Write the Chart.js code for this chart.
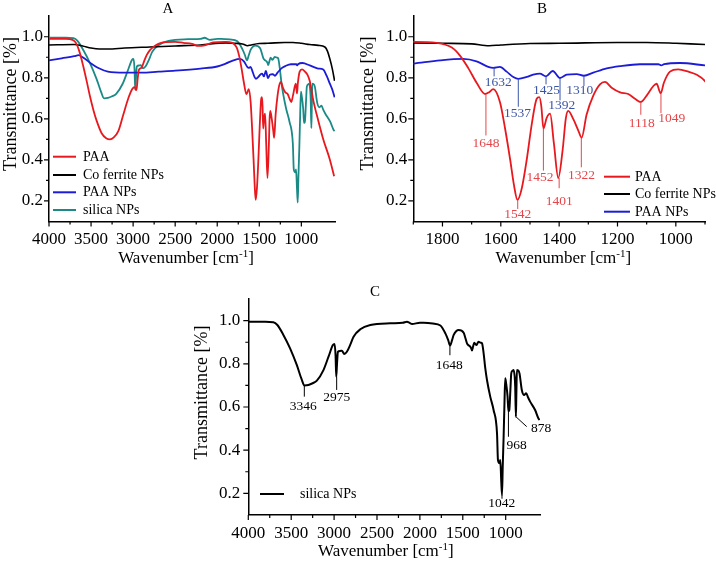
<!DOCTYPE html>
<html><head><meta charset="utf-8">
<script src="https://cdn.jsdelivr.net/npm/chart.js@4/dist/chart.umd.min.js"></script>
<style>
html,body{margin:0;padding:0;background:#fff;}
#wrap{position:relative;width:716px;height:563px;overflow:hidden;background:#fff;}
canvas{position:absolute;}
</style></head><body>
<div id="wrap">
<canvas id="cA" width="358" height="270" style="left:0;top:0;width:358px;height:270px"></canvas>
<canvas id="cB" width="358" height="270" style="left:358px;top:0;width:358px;height:270px"></canvas>
<canvas id="cC" width="380" height="283" style="left:190px;top:280px;width:380px;height:283px"></canvas>
</div>
<script>
// ---------- data (wavenumber cm-1, transmittance) ----------
const paaWn = [4000,3800,3720,3680,3640,3592,3550,3513,3470,3433,3374,3320,3275,3230,3176,3117,3057,3010,2985,2960,2945,2930,2898,2870,2839,2800,2760,2700,2640,2500,2400,2300,2225,2150,2047,1900,1820,1768,1740,1711,1683,1654,1640,1626,1603,1586,1568,1555,1543,1528,1511,1494,1477,1468,1461,1454,1443,1431,1418,1403,1388,1377,1369,1351,1334,1323,1306,1283,1260,1243,1220,1191,1163,1140,1120,1100,1077,1066,1052,1041,1020,992,957,928,900,858,798,739,660,610];
const paaT = [0.99,0.99,0.985,0.97,0.93,0.855,0.78,0.71,0.64,0.59,0.53,0.505,0.50,0.51,0.54,0.62,0.70,0.745,0.755,0.74,0.80,0.84,0.85,0.88,0.91,0.935,0.95,0.965,0.973,0.975,0.97,0.965,0.955,0.958,0.972,0.975,0.97,0.947,0.908,0.846,0.776,0.721,0.73,0.745,0.682,0.558,0.402,0.278,0.205,0.262,0.402,0.573,0.698,0.706,0.66,0.553,0.604,0.625,0.48,0.312,0.449,0.604,0.639,0.597,0.542,0.508,0.62,0.713,0.768,0.78,0.752,0.729,0.721,0.698,0.682,0.713,0.76,0.771,0.724,0.776,0.83,0.841,0.83,0.815,0.784,0.69,0.59,0.50,0.40,0.32];

const coWn = [4000,3700,3600,3500,3400,3300,3100,2800,2500,2200,1900,1800,1700,1640,1600,1500,1400,1200,1100,1000,900,800,720,690,660,630,605];
const coT = [0.96,0.962,0.955,0.945,0.94,0.94,0.945,0.95,0.955,0.96,0.97,0.968,0.965,0.956,0.96,0.967,0.968,0.972,0.972,0.968,0.962,0.958,0.95,0.93,0.89,0.84,0.785];

const npWn = [4000,3850,3700,3650,3600,3500,3400,3300,3100,2900,2700,2500,2200,2000,1900,1808,1729,1683,1643,1626,1603,1580,1557,1540,1511,1489,1466,1445,1422,1397,1374,1340,1315,1283,1237,1191,1123,1060,1050,1040,986,900,800,740,700,660,630,605];
const npT = [0.885,0.895,0.905,0.91,0.90,0.87,0.845,0.83,0.825,0.825,0.83,0.835,0.845,0.855,0.869,0.885,0.892,0.88,0.853,0.848,0.853,0.83,0.804,0.795,0.804,0.815,0.82,0.807,0.833,0.799,0.815,0.818,0.81,0.825,0.846,0.857,0.866,0.866,0.86,0.866,0.872,0.86,0.845,0.84,0.81,0.77,0.74,0.705];

const siWn = [4000,3800,3708,3661,3591,3513,3435,3380,3346,3299,3250,3201,3124,3065,3014,2995,2983,2975,2966,2955,2930,2909,2882,2851,2810,2773,2695,2578,2345,2200,2150,2120,2091,2000,1956,1850,1761,1703,1670,1648,1625,1606,1575,1548,1490,1470,1451,1430,1413,1400,1393,1380,1366,1343,1316,1290,1276,1257,1238,1218,1180,1141,1101,1090,1071,1063,1052,1043,1034,1024,1014,1005,995,978,968,958,945,935,920,908,895,889,881,876,869,855,839,812,785,761,740,715,657,618,605];
const siT = [0.995,0.995,0.993,0.98,0.934,0.872,0.795,0.73,0.70,0.702,0.71,0.722,0.771,0.833,0.887,0.892,0.84,0.74,0.80,0.856,0.86,0.861,0.846,0.856,0.89,0.926,0.96,0.98,0.988,0.99,0.995,0.99,0.985,0.99,0.99,0.987,0.978,0.941,0.91,0.885,0.91,0.934,0.952,0.957,0.944,0.92,0.895,0.885,0.88,0.87,0.862,0.88,0.898,0.887,0.902,0.898,0.895,0.849,0.78,0.725,0.648,0.586,0.478,0.354,0.339,0.354,0.26,0.192,0.33,0.462,0.62,0.733,0.71,0.648,0.58,0.586,0.68,0.756,0.768,0.771,0.74,0.694,0.555,0.65,0.771,0.77,0.756,0.679,0.656,0.664,0.645,0.625,0.586,0.547,0.54];

const seriesNames = ['PAA','Co ferrite NPs','PAA NPs','silica NPs'];

// peak labels (panel B, blue = PAA NPs)
const bBlueLabels = ['1632','1537','1425','1392','1310'];
const bBlueLineX  = [1623,1540,1445,1397,1315];
const bBlueLineY1 = [0.85,0.795,0.807,0.799,0.81];
const bBlueLineY2 = [0.807,0.659,0.768,0.69,0.76];
const bBlueTextX  = [1609,1543,1443,1391,1329];
const bBlueTextY  = [0.776,0.625,0.74,0.667,0.74];
// peak labels (panel B, red = PAA)
const bRedLabels = ['1648','1542','1452','1401','1322','1118','1049'];
const bRedLineX  = [1651,1542,1454,1400,1324,1120,1051];
const bRedLineY1 = [0.717,0.205,0.553,0.312,0.508,0.682,0.724];
const bRedLineY2 = [0.519,0.161,0.348,0.262,0.364,0.62,0.628];
const bRedTextX  = [1651,1542,1466,1400,1323,1117,1014];
const bRedTextY  = [0.48,0.135,0.314,0.2,0.325,0.577,0.60];
// peak labels (panel C, silica)
const cLabels  = ['3346','2975','1648','1042','968','878'];
const cLineX1  = [3347,2970,1650,1043,968,881];
const cLineY1  = [0.70,0.74,0.885,0.192,0.58,0.555];
const cLineX2  = [3347,2970,1650,1043,968,755];
const cLineY2  = [0.648,0.679,0.84,0.175,0.462,0.509];
const cTextX   = [3359,2970,1657,1047,872,588];
const cTextY   = [0.601,0.643,0.794,0.153,0.424,0.501];

// ---------- drawing ----------
const SERIF = '"Liberation Serif","Times New Roman",serif';
const RED = '#e8191e', BLACK = '#000000', BLUE = '#1c1cd6', TEAL = '#1b8a86';

function pts(wn, t){ return wn.map((w,i)=>({x:w, y:t[i]})); }
function ds(label, wn, t, color, w){
  return {label, data: pts(wn,t), borderColor: color, backgroundColor: color, borderWidth: w,
          pointRadius: 0, cubicInterpolationMode: 'monotone', fill: false};
}

function makeDeco(c){
  return { id: 'deco', afterDraw(chart){
    const ctx = chart.ctx, X = chart.scales.x, Y = chart.scales.y;
    ctx.save();
    // tick marks (major + minor, outward)
    ctx.strokeStyle = '#000'; ctx.lineWidth = 1.2; ctx.beginPath();
    X.ticks.forEach(t=>{ const v = Math.round(t.value); if (v % c.xMinor !== 0) return;
      const L = v % c.xMajor === 0 ? 5 : 3; const p = X.getPixelForValue(v);
      ctx.moveTo(p, X.top); ctx.lineTo(p, X.top + L); });
    Y.ticks.forEach(t=>{ const k = Math.round(t.value*10); if (k < 2 || k > 10) return;
      const L = k % 2 === 0 ? 5 : 3; const p = Y.getPixelForValue(t.value);
      ctx.moveTo(Y.right, p); ctx.lineTo(Y.right - L, p); });
    ctx.stroke();
    // peak annotations
    ctx.font = c.noteSize + 'px ' + SERIF; ctx.textAlign = 'center'; ctx.textBaseline = 'middle';
    c.notes.forEach(n=>{
      ctx.strokeStyle = n.color; ctx.fillStyle = n.color; ctx.lineWidth = 1;
      n.labels.forEach((lab,i)=>{
        ctx.beginPath();
        ctx.moveTo(X.getPixelForValue(n.x1[i]), Y.getPixelForValue(n.y1[i]));
        ctx.lineTo(X.getPixelForValue(n.x2[i]), Y.getPixelForValue(n.y2[i]));
        ctx.stroke();
        ctx.fillText(lab, X.getPixelForValue(n.tx[i]), Y.getPixelForValue(n.ty[i]));
      });
    });
    // legend
    ctx.font = '14px ' + SERIF; ctx.textAlign = 'left'; ctx.textBaseline = 'middle';
    chart.data.datasets.forEach((d,i)=>{
      const yy = c.leg.ys[i];
      ctx.strokeStyle = d.borderColor; ctx.lineWidth = 2;
      ctx.beginPath(); ctx.moveTo(c.leg.x1, yy); ctx.lineTo(c.leg.x2, yy); ctx.stroke();
      ctx.fillStyle = '#000'; ctx.fillText(d.label, c.leg.tx, yy + 0.5);
    });
    // panel letter
    ctx.fillStyle = '#000'; ctx.font = '15px ' + SERIF; ctx.textAlign = 'center';
    ctx.fillText(c.letter, c.letterPos[0], c.letterPos[1]);
    // x title with superscript
    const f1 = '17px ' + SERIF, f2 = '11px ' + SERIF;
    const a = 'Wavenumber [cm', s = '-1', b = ']';
    ctx.font = f1; const wa = ctx.measureText(a).width, wb = ctx.measureText(b).width;
    ctx.font = f2; const ws = ctx.measureText(s).width;
    let x0 = c.xTitle[0] - (wa + ws + wb)/2, yT = c.xTitle[1];
    ctx.textAlign = 'left'; ctx.textBaseline = 'middle';
    ctx.font = f1; ctx.fillText(a, x0, yT);
    ctx.font = f2; ctx.fillText(s, x0 + wa, yT - 5);
    ctx.font = f1; ctx.fillText(b, x0 + wa + ws, yT);
    // y title
    ctx.save(); ctx.translate(c.yTitle[0], c.yTitle[1]); ctx.rotate(-Math.PI/2);
    ctx.font = '18px ' + SERIF; ctx.textAlign = 'center'; ctx.textBaseline = 'middle';
    ctx.fillText('Transmittance [%]', 0, 0); ctx.restore();
    ctx.restore();
  }};
}

function makeChart(id, datasets, c){
  const tickFont = {family: SERIF, size: 17};
  return new Chart(document.getElementById(id), {
    type: 'line',
    data: { datasets },
    options: {
      responsive: false, animation: false, devicePixelRatio: 1,
      layout: { padding: { left: 0, right: c.padR, top: c.padT, bottom: 0 } },
      plugins: { legend: {display: false}, tooltip: {enabled: false}, title: {display: false} },
      scales: {
        x: { type: 'linear', reverse: true, min: c.xmin, max: c.xmax,
             afterFit: s => { s.height = c.xh; },
             grid: { display: false, drawTicks: false },
             border: { display: true, color: '#000', width: 1.5 },
             ticks: { stepSize: c.xMinor, autoSkip: false, maxRotation: 0, minRotation: 0, padding: 8,
                      color: '#000', font: tickFont,
                      callback: v => (Math.round(v) % c.xMajor === 0 && v >= c.xLabMin && v <= c.xLabMax) ? String(Math.round(v)) : '' },
             title: { display: false } },
        y: { type: 'linear', min: 0.1, max: 1.1,
             afterFit: s => { s.width = c.yw; },
             grid: { display: false, drawTicks: false },
             border: { display: true, color: '#000', width: 1.5 },
             ticks: { stepSize: 0.1, autoSkip: false, padding: c.yPad, color: '#000', font: tickFont,
                      callback: v => { const k = Math.round(v*10); return (k % 2 === 0 && k >= 2 && k <= 10) ? (k/10).toFixed(1) : ''; } },
             title: { display: false } }
      }
    },
    plugins: [makeDeco(c)]
  });
}

makeChart('cA', [
  ds(seriesNames[0], paaWn, paaT, RED, 1.8),
  ds(seriesNames[1], coWn, coT, BLACK, 1.6),
  ds(seriesNames[2], npWn, npT, BLUE, 1.8),
  ds(seriesNames[3], siWn, siT, TEAL, 1.8)
], { xmin: 600, xmax: 4000, xMinor: 250, xMajor: 500, xLabMin: 1000, xLabMax: 4000,
     padR: 23, padT: 7.5, xh: 48.5, yw: 49, yPad: 6, noteSize: 13.5, notes: [],
     leg: { x1: 53, x2: 76, tx: 83, ys: [156.7, 175, 192.3, 210] },
     letter: 'A', letterPos: [168, 9.5], xTitle: [186, 259], yTitle: [11.7, 104] });

makeChart('cB', [
  ds(seriesNames[0], paaWn, paaT, RED, 1.8),
  ds(seriesNames[1], coWn, coT, BLACK, 1.6),
  ds(seriesNames[2], npWn, npT, BLUE, 1.8)
], { xmin: 900, xmax: 1900, xMinor: 100, xMajor: 200, xLabMin: 1000, xLabMax: 1800,
     padR: 11, padT: 7.5, xh: 48.5, yw: 55.3, yPad: 6, noteSize: 13.5,
     notes: [
       { color: '#3b55a6', labels: bBlueLabels, x1: bBlueLineX, y1: bBlueLineY1, x2: bBlueLineX, y2: bBlueLineY2, tx: bBlueTextX, ty: bBlueTextY },
       { color: '#e4474b', labels: bRedLabels, x1: bRedLineX, y1: bRedLineY1, x2: bRedLineX, y2: bRedLineY2, tx: bRedTextX, ty: bRedTextY }
     ],
     leg: { x1: 246, x2: 272, tx: 277, ys: [176.7, 194, 211.7] },
     letter: 'B', letterPos: [184, 9.5], xTitle: [205.3, 259], yTitle: [10.3, 103.5] });

makeChart('cC', [
  ds(seriesNames[3], siWn, siT, BLACK, 2)
], { xmin: 600, xmax: 4000, xMinor: 250, xMajor: 500, xLabMin: 1000, xLabMax: 4000,
     padR: 30, padT: 19.1, xh: 48.1, yw: 58.3, yPad: 8, noteSize: 13.5,
     notes: [
       { color: '#000', labels: cLabels, x1: cLineX1, y1: cLineY1, x2: cLineX2, y2: cLineY2, tx: cTextX, ty: cTextY }
     ],
     leg: { x1: 70, x2: 94, tx: 110, ys: [214] },
     letter: 'C', letterPos: [185, 11.7], xTitle: [195.8, 272], yTitle: [12.5, 112.5] });
</script>
</body></html>
